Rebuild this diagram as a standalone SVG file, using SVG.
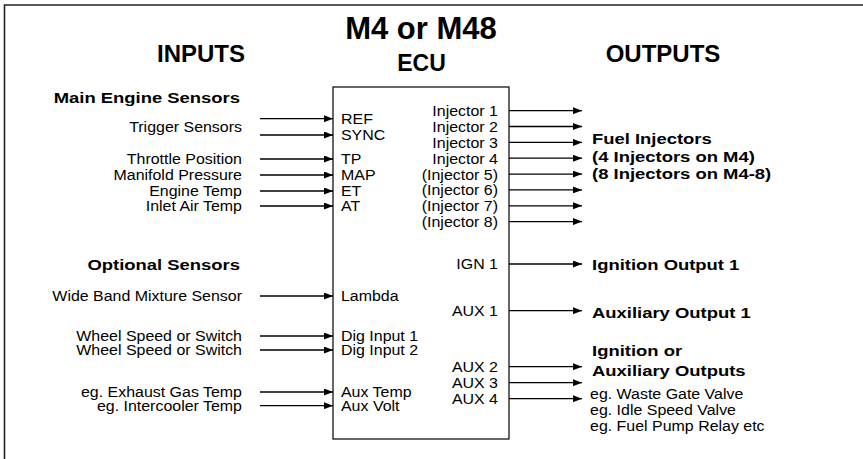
<svg xmlns="http://www.w3.org/2000/svg" width="863" height="459" viewBox="0 0 863 459">
<style>
text{font-family:"Liberation Sans",Arial,Helvetica,sans-serif;fill:#000}
.t{font-size:14.5px}
.h{font-size:15.5px;font-weight:bold}
.big{font-weight:bold;text-anchor:middle}
.e{text-anchor:end}
.n{transform:scale(1.1,1)}
.b{transform:scale(1.19,1)}
.c line{stroke:#000;stroke-width:1.3;marker-end:url(#ah)}
</style>
<defs>
<marker id="ah" markerUnits="userSpaceOnUse" markerWidth="9" markerHeight="7" refX="9" refY="3.5" orient="auto">
<path d="M0,0 L9,3.5 L0,7 z" fill="#000"/>
</marker>
</defs>
<rect width="863" height="459" fill="#fff"/>
<path id="frame" d="M4.5,459 V5 H863" fill="none" stroke="#222" stroke-width="1.6"/>
<g id="headings">
<text class="big" x="201" y="62" font-size="24">INPUTS</text>
<text class="big" x="663" y="62" font-size="24">OUTPUTS</text>
</g>
<g id="ecu">
<text class="big" x="421" y="39" font-size="31">M4 or M48</text>
<text class="big" x="421.5" y="71" font-size="23">ECU</text>
<rect x="333" y="87" width="176" height="352" fill="none" stroke="#000" stroke-width="1.2"/>
<g class="t n">
<text x="310" y="124.3">REF</text>
<text x="310" y="140.5">SYNC</text>
<text x="310" y="164.3">TP</text>
<text x="310" y="180.3">MAP</text>
<text x="310" y="196.3">ET</text>
<text x="310" y="211.3">AT</text>
<text x="310" y="301.5">Lambda</text>
<text x="310" y="341.3">Dig Input 1</text>
<text x="310" y="355.3">Dig Input 2</text>
<text x="310" y="397.3">Aux Temp</text>
<text x="310" y="411">Aux Volt</text>
</g>
<g class="t n e">
<text x="452.7" y="116.2">Injector 1</text>
<text x="452.7" y="132">Injector 2</text>
<text x="452.7" y="147.9">Injector 3</text>
<text x="452.7" y="163.7">Injector 4</text>
<text x="452.7" y="179.6">(Injector 5)</text>
<text x="452.7" y="195.4">(Injector 6)</text>
<text x="452.7" y="211.3">(Injector 7)</text>
<text x="452.7" y="227.1">(Injector 8)</text>
<text x="452.7" y="269.3">IGN 1</text>
<text x="452.7" y="316">AUX 1</text>
<text x="452.7" y="372">AUX 2</text>
<text x="452.7" y="388">AUX 3</text>
<text x="452.7" y="404">AUX 4</text>
</g>
</g>
<g id="main-engine-sensors">
<text class="h b e" x="201.7" y="103">Main Engine Sensors</text>
<g class="t n e">
<text x="220" y="132.5">Trigger Sensors</text>
<text x="220" y="164.3">Throttle Position</text>
<text x="220" y="180.3">Manifold Pressure</text>
<text x="220" y="196.3">Engine Temp</text>
<text x="220" y="211.3">Inlet Air Temp</text>
</g>
</g>
<g id="optional-sensors">
<text class="h b e" x="201.7" y="270">Optional Sensors</text>
<g class="t n e">
<text x="220" y="301.5">Wide Band Mixture Sensor</text>
<text x="220" y="341.3">Wheel Speed or Switch</text>
<text x="220" y="355.3">Wheel Speed or Switch</text>
<text x="220" y="397.3">eg. Exhaust Gas Temp</text>
<text x="220" y="411">eg. Intercooler Temp</text>
</g>
</g>
<g id="fuel-injectors">
<text class="h b" x="497.5" y="144">Fuel Injectors</text>
<text class="h b" x="497.5" y="162">(4 Injectors on M4)</text>
<text class="h b" x="497.5" y="179">(8 Injectors on M4-8)</text>
</g>
<g id="ignition-output-1">
<text class="h b" x="497.5" y="270.5">Ignition Output 1</text>
</g>
<g id="auxiliary-output-1">
<text class="h b" x="497.5" y="318">Auxiliary Output 1</text>
</g>
<g id="ignition-or-auxiliary-outputs">
<text class="h b" x="497.5" y="356.5">Ignition or</text>
<text class="h b" x="497.5" y="376">Auxiliary Outputs</text>
<g class="t n">
<text x="536.4" y="399">eg. Waste Gate Valve</text>
<text x="536.4" y="415">eg. Idle Speed Valve</text>
<text x="536.4" y="430.7">eg. Fuel Pump Relay etc</text>
</g>
</g>
<g id="connectors" class="c">
<line x1="260" y1="118.7" x2="333" y2="118.7"/>
<line x1="260" y1="135" x2="333" y2="135"/>
<line x1="260" y1="159" x2="333" y2="159"/>
<line x1="260" y1="175" x2="333" y2="175"/>
<line x1="260" y1="191" x2="333" y2="191"/>
<line x1="260" y1="206" x2="333" y2="206"/>
<line x1="260" y1="296" x2="333" y2="296"/>
<line x1="260" y1="336" x2="333" y2="336"/>
<line x1="260" y1="350" x2="333" y2="350"/>
<line x1="260" y1="392" x2="333" y2="392"/>
<line x1="260" y1="405.7" x2="333" y2="405.7"/>
<line x1="509" y1="110.7" x2="582" y2="110.7"/>
<line x1="509" y1="126.5" x2="582" y2="126.5"/>
<line x1="509" y1="142.4" x2="582" y2="142.4"/>
<line x1="509" y1="158.2" x2="582" y2="158.2"/>
<line x1="509" y1="174.1" x2="582" y2="174.1"/>
<line x1="509" y1="189.9" x2="582" y2="189.9"/>
<line x1="509" y1="205.8" x2="582" y2="205.8"/>
<line x1="509" y1="221.6" x2="582" y2="221.6"/>
<line x1="509" y1="264" x2="582" y2="264"/>
<line x1="509" y1="310.7" x2="582" y2="310.7"/>
<line x1="509" y1="366.7" x2="582" y2="366.7"/>
<line x1="509" y1="382.7" x2="582" y2="382.7"/>
<line x1="509" y1="398.7" x2="582" y2="398.7"/>
</g>
</svg>
